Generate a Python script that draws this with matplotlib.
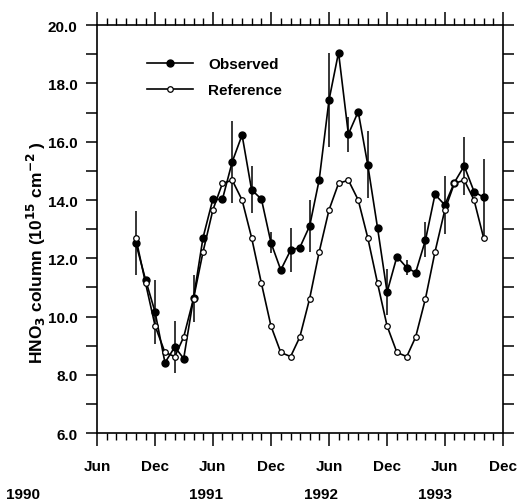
import numpy as np
import pandas as pd
import matplotlib
matplotlib.use('Agg')
import matplotlib.pyplot as plt
import matplotlib.dates as mdates
from matplotlib.ticker import MultipleLocator, FormatStrFormatter

# data to plot (monthly, Oct 1990 - Oct 1993)
months = pd.date_range('1990-10-01', '1993-10-01', freq='MS')
observed = [12.52, 11.26, 10.15,
            8.42, 8.96, 8.56, 10.63, 12.71, 14.03, 14.02, 15.31, 16.23, 14.35, 14.03, 12.54,
            11.60, 12.28, 12.37, 13.11, 14.69, 17.43, 19.06, 16.26, 17.03, 15.21, 13.04, 10.84,
            12.06, 11.68, 11.51, 12.63, 14.19, 13.83, 14.60, 15.17, 14.29, 14.09]
observed_err = [1.1, 0, 1.1,
                0, 0.9, 0, 0.8, 0, 0, 0, 1.4, 0, 0.8, 0, 0.37,
                0, 0.75, 0, 0.9, 0, 1.6, 0, 0.6, 0, 1.15, 0, 0.8,
                0, 0.25, 0, 0.6, 0, 1.0, 0, 1.0, 0, 1.3]
reference = [12.71, 11.14, 9.68,
             8.77, 8.63, 9.30, 10.62, 12.22, 13.66, 14.57, 14.68, 14.00, 12.71, 11.14, 9.68,
             8.77, 8.63, 9.30, 10.62, 12.22, 13.66, 14.57, 14.68, 14.00, 12.71, 11.14, 9.68,
             8.77, 8.63, 9.30, 10.62, 12.22, 13.66, 14.57, 14.68, 14.00, 12.71]
years = ['1990', '1991', '1992', '1993']
year_pos = ['1989-10-10', '1991-05-10', '1992-05-08', '1993-05-01']

plt.rcParams['font.family'] = 'Liberation Sans'
plt.rcParams['font.weight'] = 'bold'
plt.rcParams['font.size'] = 11

fig = plt.figure(figsize=(5.19, 5.02), dpi=100)
ax = fig.add_axes([0.187, 0.135, 0.782, 0.813])

ax.errorbar(months, observed, yerr=observed_err, fmt='none', ecolor='black',
            elinewidth=1.1, capsize=0, zorder=2)
ax.plot(months, observed, color='black', lw=1.2, marker='o', markersize=5,
        markerfacecolor='black', label='Observed', zorder=3)
ax.plot(months, reference, color='black', lw=1.2, marker='o', markersize=4,
        markerfacecolor='white', markeredgewidth=0.9, label='Reference', zorder=4)

ax.set_xlim(pd.Timestamp('1990-06-01'), pd.Timestamp('1993-12-01'))
ax.set_ylim(6.0, 20.0)

ax.xaxis.set_major_locator(mdates.MonthLocator(bymonth=[6, 12]))
ax.xaxis.set_minor_locator(mdates.MonthLocator())
ax.xaxis.set_major_formatter(mdates.DateFormatter('%b'))
ax.yaxis.set_major_locator(MultipleLocator(2))
ax.yaxis.set_minor_locator(MultipleLocator(1))
ax.yaxis.set_major_formatter(FormatStrFormatter('%.1f'))

ax.tick_params(axis='x', which='major', direction='out', length=9.5, width=1.1,
               top=True, pad=9, labelsize=11)
ax.tick_params(axis='x', which='minor', direction='out', length=5, width=1.0, top=True)
ax.tick_params(axis='y', which='both', direction='out', length=8, width=1.1,
               right=True, pad=6, labelsize=11)
for s in ax.spines.values():
    s.set_linewidth(1.2)

for yr, pos in zip(years, year_pos):
    ax.text(pd.Timestamp(pos), -0.15, yr, transform=ax.get_xaxis_transform(),
            ha='center', va='center', fontsize=11, fontweight='bold', clip_on=False)

ax.set_ylabel('HNO$_\\mathbf{3}$ column (10$^\\mathbf{15}$ cm$^\\mathbf{-2}$ )',
              fontsize=12.5, fontweight='bold')
ax.yaxis.set_label_coords(-0.12, 0.445)

ax.legend(loc='upper left', bbox_to_anchor=(0.09, 0.955), frameon=False,
          handlelength=3.0, handletextpad=1.0, labelspacing=0.8, fontsize=11)

fig.savefig('out.png', dpi=100)
